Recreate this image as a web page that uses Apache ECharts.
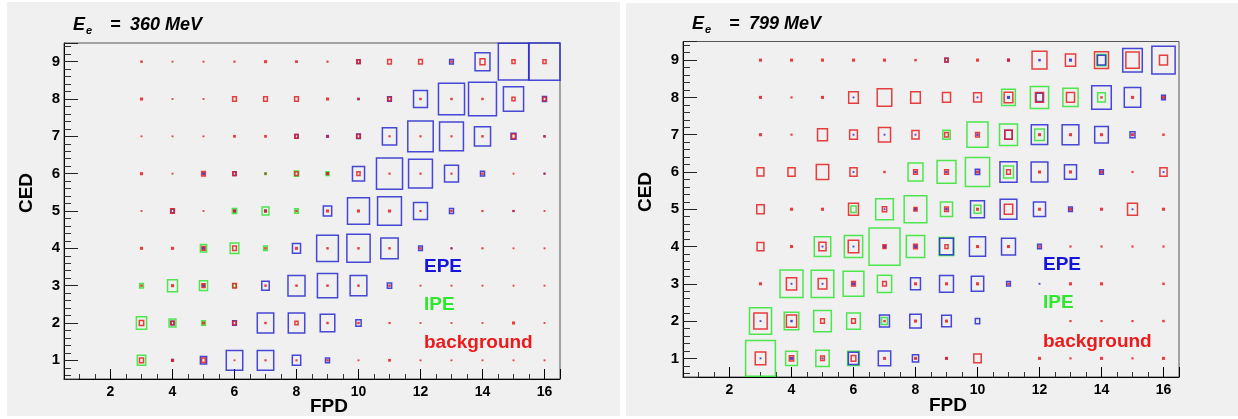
<!DOCTYPE html>
<html>
<head>
<meta charset="utf-8">
<script src="https://cdn.jsdelivr.net/npm/echarts@6/dist/echarts.min.js"></script>
<style>html,body{margin:0;padding:0;background:#fff}#c{width:1238px;height:419px}</style>
</head>
<body>
<div id="c"></div>
<script>
// FPD columns (x) and CED rows (y)
const fpdCols = [3,4,5,6,7,8,9,10,11,12,13,14,15,16];
const cedRows = [1,2,3,4,5,6,7,8,9];
const panelTitles = ['360 MeV', '799 MeV'];
const legendNames = ['EPE', 'IPE', 'background'];

// Box sizes (% of cell) — left panel, E = 360 MeV; rows are CED 1..9, columns FPD 3..16
const epe360 = [
  [0, 8, 20, 53, 53, 27, 13, 0, 0, 0, 0, 0, 0, 0],
  [0, 10, 0, 12, 53, 53, 47, 17, 0, 0, 0, 0, 0, 0],
  [0, 0, 8, 0, 24, 55, 65, 54, 14, 0, 0, 0, 0, 0],
  [0, 0, 8, 0, 0, 26, 70, 75, 56, 12, 5, 0, 0, 0],
  [0, 10, 0, 8, 8, 0, 27, 71, 77, 45, 13, 0, 5, 0],
  [0, 0, 8, 10, 0, 0, 6, 39, 84, 77, 45, 13, 0, 5],
  [0, 0, 0, 0, 0, 10, 8, 12, 46, 82, 77, 52, 16, 6],
  [0, 0, 0, 0, 0, 0, 0, 6, 12, 45, 84, 90, 65, 13],
  [0, 0, 0, 0, 0, 0, 0, 10, 0, 0, 12, 48, 98, 100]
];
const ipe360 = [
  [27, 0, 0, 0, 0, 0, 0, 0, 0, 0, 0, 0, 0, 0],
  [33, 22, 12, 0, 0, 0, 0, 0, 0, 0, 0, 0, 0, 0],
  [12, 32, 26, 10, 0, 0, 0, 0, 0, 0, 0, 0, 0, 0],
  [0, 0, 20, 28, 12, 0, 0, 0, 0, 0, 0, 0, 0, 0],
  [0, 0, 0, 14, 22, 12, 0, 0, 0, 0, 0, 0, 0, 0],
  [0, 0, 0, 0, 8, 14, 10, 0, 0, 0, 0, 0, 0, 0],
  [0, 0, 0, 0, 0, 0, 0, 0, 0, 0, 0, 0, 0, 0],
  [0, 0, 0, 0, 0, 0, 0, 0, 0, 0, 0, 0, 0, 0],
  [0, 0, 0, 0, 0, 0, 0, 0, 0, 0, 0, 0, 0, 0]
];
const bkg360 = [
  [13, 8, 12, 4, 5, 5, 6, 4, 7, 4, 4, 4, 4, 4],
  [14, 10, 8, 10, 6, 10, 6, 6, 5, 4, 4, 4, 8, 4],
  [6, 8, 10, 12, 6, 6, 6, 6, 6, 4, 4, 4, 4, 4],
  [8, 8, 10, 12, 6, 8, 6, 6, 6, 6, 4, 5, 4, 4],
  [4, 12, 4, 8, 8, 6, 8, 8, 8, 5, 6, 5, 5, 4],
  [8, 4, 12, 10, 5, 10, 8, 10, 5, 5, 5, 6, 4, 4],
  [3, 4, 4, 7, 7, 10, 6, 10, 5, 5, 5, 6, 12, 5],
  [8, 4, 4, 12, 12, 12, 8, 6, 10, 6, 6, 6, 10, 10],
  [6, 4, 4, 5, 8, 7, 5, 10, 12, 12, 6, 16, 10, 10]
];

// Right panel, E = 799 MeV
const epe799 = [
  [4, 8, 4, 33, 40, 20, 6, 0, 0, 0, 0, 0, 0, 0],
  [4, 6, 0, 0, 32, 37, 31, 14, 0, 0, 0, 0, 0, 0],
  [0, 4, 4, 8, 0, 32, 45, 40, 12, 4, 0, 0, 0, 0],
  [0, 0, 4, 4, 8, 8, 44, 52, 45, 12, 0, 0, 0, 0],
  [0, 0, 0, 0, 4, 8, 6, 45, 54, 39, 12, 0, 4, 0],
  [0, 0, 0, 4, 0, 6, 6, 14, 55, 54, 39, 12, 0, 4],
  [0, 0, 0, 4, 4, 4, 0, 6, 24, 53, 54, 44, 16, 0],
  [0, 0, 0, 4, 0, 0, 0, 4, 8, 22, 0, 63, 53, 12],
  [0, 0, 0, 0, 0, 0, 10, 0, 8, 6, 8, 26, 63, 75]
];
const ipe799 = [
  [96, 38, 43, 38, 0, 0, 0, 0, 0, 0, 0, 0, 0, 0],
  [71, 47, 57, 44, 19, 0, 0, 0, 0, 0, 0, 0, 0, 0],
  [0, 74, 73, 67, 46, 0, 0, 0, 0, 0, 0, 0, 0, 0],
  [0, 0, 53, 59, 100, 59, 48, 0, 0, 0, 0, 0, 0, 0],
  [0, 0, 0, 17, 57, 73, 39, 22, 0, 0, 0, 0, 0, 0],
  [0, 0, 0, 0, 0, 48, 61, 78, 32, 0, 0, 0, 0, 0],
  [0, 0, 0, 0, 0, 0, 24, 68, 58, 31, 0, 0, 0, 0],
  [0, 0, 0, 0, 0, 0, 0, 0, 44, 59, 49, 25, 0, 0],
  [0, 0, 0, 0, 0, 0, 0, 0, 0, 0, 0, 30, 0, 0]
];
const bkg799 = [
  [34, 14, 12, 15, 8, 8, 8, 24, 0, 8, 5, 8, 5, 8],
  [43, 33, 12, 12, 6, 8, 8, 0, 0, 0, 5, 5, 5, 6],
  [8, 33, 28, 12, 12, 8, 8, 8, 6, 0, 8, 8, 0, 6],
  [22, 8, 23, 34, 10, 12, 10, 8, 8, 6, 5, 5, 5, 5],
  [24, 8, 8, 32, 14, 10, 12, 8, 27, 8, 8, 8, 32, 8],
  [22, 23, 40, 23, 6, 12, 12, 8, 12, 8, 8, 8, 5, 23],
  [8, 5, 32, 25, 39, 23, 12, 12, 24, 8, 8, 8, 8, 6],
  [8, 5, 8, 31, 47, 31, 26, 25, 28, 26, 26, 6, 8, 8],
  [8, 8, 8, 8, 8, 6, 10, 8, 8, 48, 33, 45, 43, 26]
];

const colors = { EPE: 'rgba(40,40,210,0.85)', IPE: 'rgba(60,228,60,0.9)', background: 'rgba(228,30,30,0.85)' };
const textColors = { EPE: '#1414dc', IPE: '#2ee82e', background: '#ec1a1a' };

function toPoints(mat) {
  const pts = [];
  mat.forEach((row, ri) => row.forEach((v, ci) => { if (v > 0) pts.push([fpdCols[ci], cedRows[ri], v]); }));
  return pts;
}

function boxSeries(mat, name, gi) {
  return {
    type: 'custom', name: name, xAxisIndex: gi, yAxisIndex: gi, silent: true,
    data: toPoints(mat),
    renderItem: function (params, api) {
      const c = api.coord([api.value(0), api.value(1)]);
      const s = api.size([1, 1]);
      const f = api.value(2) / 100;
      const w = s[0] * f, h = s[1] * f;
      if (w < 3) {
        const d = Math.max(w, 1.2) + 0.6;
        return { type: 'rect', shape: { x: c[0] - d / 2, y: c[1] - d / 2, width: d, height: d },
                 style: { fill: colors[name], stroke: null } };
      }
      return { type: 'rect', shape: { x: c[0] - w / 2, y: c[1] - h / 2, width: w, height: h },
               style: { fill: 'none', stroke: colors[name], lineWidth: 1.5 } };
    }
  };
}

const font = '"Liberation Sans", Arial, Helvetica, sans-serif';
const grids = [
  { left: 64, top: 43, width: 496, height: 336 },
  { left: 683, top: 41.5, width: 496, height: 335.5 }
];
function xAx(gi) {
  return { type: 'value', gridIndex: gi, min: 0.5, max: 16.5, splitNumber: 8,
    axisLine: { show: true, lineStyle: { color: '#000', width: 1 } },
    axisTick: { show: true, inside: true, length: 10, lineStyle: { color: '#000' } },
    minorTick: { show: true, splitNumber: 4, length: 5, lineStyle: { color: '#333' } },
    splitLine: { show: false },
    axisLabel: { margin: 6, color: '#000', fontFamily: font, fontWeight: 'bold', fontSize: 14,
      formatter: v => (Number.isInteger(v) ? String(v) : '') } };
}
function yAx(gi) {
  return { type: 'value', gridIndex: gi, min: 0.5, max: 9.5, splitNumber: 9,
    axisLine: { show: true, lineStyle: { color: '#000', width: 1 } },
    axisTick: { show: true, inside: true, length: 14, lineStyle: { color: '#222' } },
    minorTick: { show: true, splitNumber: 5, length: 7, lineStyle: { color: '#333' } },
    splitLine: { show: false },
    axisLabel: { margin: 4, color: '#000', fontFamily: font, fontWeight: 'bold', fontSize: 15,
      formatter: v => (Number.isInteger(v) ? String(v) : '') } };
}

const series = [];
[[epe360, ipe360, bkg360], [epe799, ipe799, bkg799]].forEach((mats, gi) => {
  series.push(boxSeries(mats[1], 'IPE', gi));
  series.push(boxSeries(mats[0], 'EPE', gi));
  series.push(boxSeries(mats[2], 'background', gi));
});

const graphic = [
  { type: 'rect', shape: { x: 7, y: 2, width: 613, height: 414 }, style: { fill: '#f0f0f0' }, z: -10, silent: true },
  { type: 'rect', shape: { x: 626, y: 3, width: 612, height: 413 }, style: { fill: '#f0f0f0' }, z: -10, silent: true }
];
const panelX = [0, 619];
const legendX = [424, 1043];
const legendY = [[267, 305, 343], [265, 303, 342]];
const yShift = [0, -1];
panelTitles.forEach((t, pi) => {
  const ox = panelX[pi], dy = yShift[pi];
  const tf = { fontFamily: font, fontWeight: 'bold', fontStyle: 'italic', fill: '#000', textVerticalAlign: 'middle' };
  graphic.push({ type: 'text', x: 73 + ox, y: 25 + dy, style: Object.assign({ text: 'E', fontSize: 18 }, tf), z: 100 });
  graphic.push({ type: 'text', x: 86 + ox, y: 31 + dy, style: Object.assign({ text: 'e', fontSize: 11 }, tf), z: 100 });
  graphic.push({ type: 'text', x: 110 + ox, y: 25 + dy, style: Object.assign({ text: '=', fontSize: 18 }, tf), z: 100 });
  graphic.push({ type: 'text', x: 130 + ox, y: 25 + dy, style: Object.assign({ text: t, fontSize: 18 }, tf), z: 100 });
  // axis titles
  graphic.push({ type: 'text', x: 329 + ox, y: 407 + dy, style: { text: 'FPD', fontFamily: font, fontWeight: 'bold', fontSize: 19, fill: '#000', textAlign: 'center', textVerticalAlign: 'middle' }, z: 100 });
  graphic.push({ type: 'text', x: 27 + ox, y: 193 + dy, rotation: Math.PI / 2, style: { text: 'CED', fontFamily: font, fontWeight: 'bold', fontSize: 19, fill: '#000', textAlign: 'center', textVerticalAlign: 'middle' }, z: 100 });
  legendNames.forEach((n, li) => {
    graphic.push({ type: 'text', x: legendX[pi], y: legendY[pi][li], style: { text: n, fontFamily: font, fontWeight: 'bold', fontSize: 19, fill: textColors[n], textVerticalAlign: 'middle' }, z: 100 });
  });
});

const chart = echarts.init(document.getElementById('c'), null, { renderer: 'canvas' });
chart.setOption({
  animation: false,
  backgroundColor: '#ffffff',
  grid: grids.map(g => Object.assign({ show: true, borderColor: '#555', borderWidth: 1, backgroundColor: 'transparent' }, g)),
  xAxis: [xAx(0), xAx(1)],
  yAxis: [yAx(0), yAx(1)],
  series: series,
  graphic: graphic
});
</script>
</body>
</html>
